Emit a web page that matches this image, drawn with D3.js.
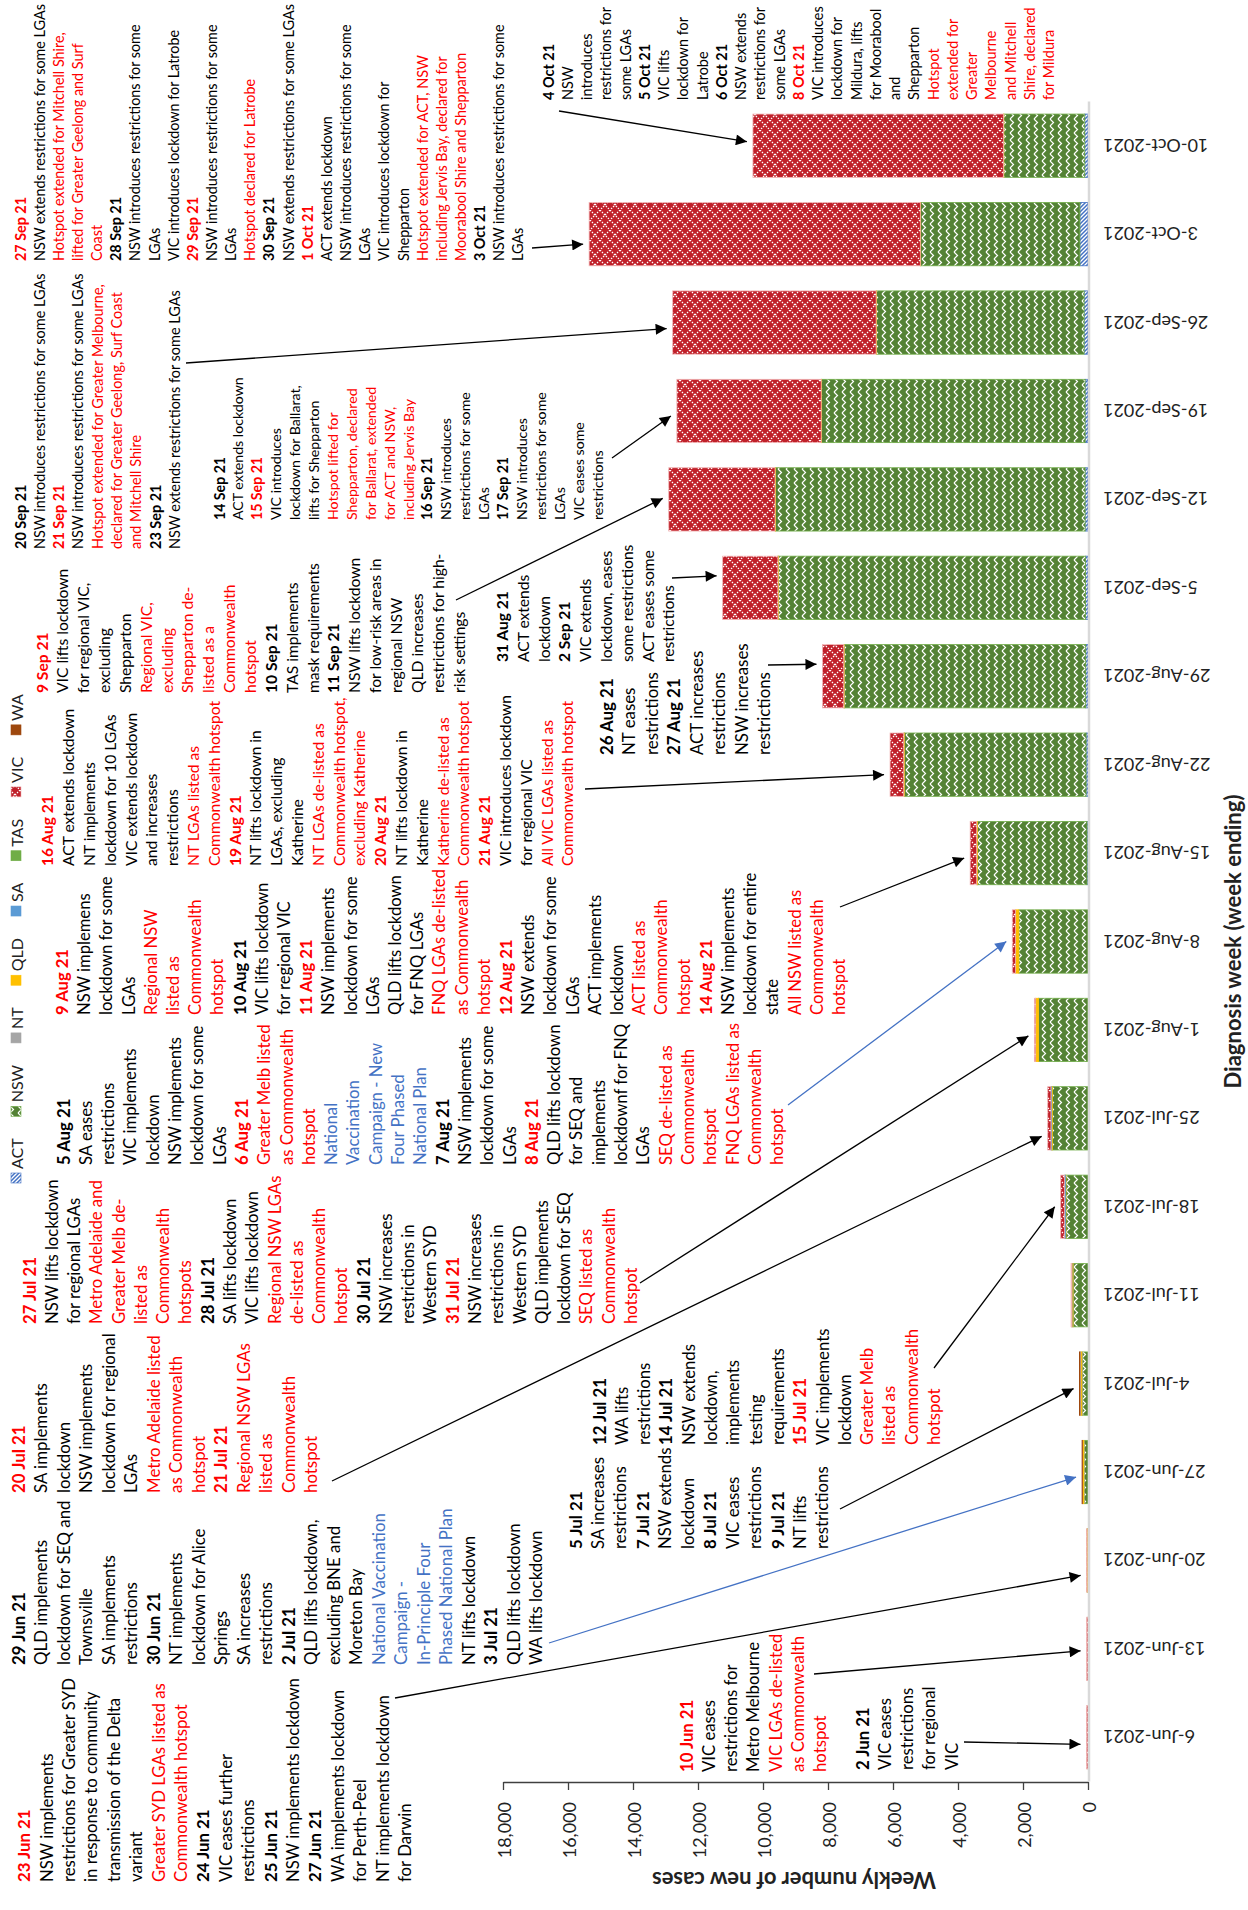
<!DOCTYPE html>
<html lang="en">
<head>
<meta charset="UTF-8">
<title>Weekly new cases and public health measures, Jun-Oct 2021</title>
<style>
  body { margin: 0; background: #fff; }
  svg { font-family: Lato, "Open Sans", sans-serif; }
</style>
</head>
<body>
<svg width="1248" height="1910"></svg>
<script src="https://d3js.org/d3.v7.min.js"></script>
<script>
// ---- data ----
const weeks = ["6-Jun-2021","13-Jun-2021","20-Jun-2021","27-Jun-2021","4-Jul-2021","11-Jul-2021",
  "18-Jul-2021","25-Jul-2021","1-Aug-2021","8-Aug-2021","15-Aug-2021","22-Aug-2021","29-Aug-2021",
  "5-Sep-2021","12-Sep-2021","19-Sep-2021","26-Sep-2021","3-Oct-2021","10-Oct-2021"];
const states = ["ACT","NSW","NT","QLD","SA","TAS","VIC","WA"];
const actCases = [0,0,0,0,0,0,0,0,0,0,30,60,70,80,90,90,120,250,100];
const nswCases = [2,3,20,120,180,460,680,1100,1520,2130,3370,5590,7430,9450,9530,8110,6390,4900,2490];
const ntCases  = [0,0,2,8,10,2,0,0,0,0,5,5,5,2,0,0,0,0,0];
const qldCases = [0,0,5,40,50,30,15,25,90,100,20,15,10,10,10,10,10,10,10];
const saCases  = [0,0,0,0,5,10,30,15,0,0,0,0,0,0,0,0,0,0,0];
const tasCases = [0,0,0,0,0,0,0,0,0,0,0,0,0,0,0,0,0,0,0];
const vicCases = [45,40,15,5,5,20,115,100,40,100,200,420,655,1700,3270,4440,6260,10190,7710];
const waCases  = [0,0,0,10,10,0,0,0,0,0,0,0,0,0,0,0,0,0,0];
const yTicks = [0,2000,4000,6000,8000,10000,12000,14000,16000,18000];

const rows = weeks.map((w, i) => ({ week: w, ACT: actCases[i], NSW: nswCases[i], NT: ntCases[i],
  QLD: qldCases[i], SA: saCases[i], TAS: tasCases[i], VIC: vicCases[i], WA: waCases[i] }));

// ---- annotation text boxes: "!" red, "*" bold, "~" blue ----
const notes = [
  { x: 20, y: 261, lh: 19.15, lines: ["!*27 Sep 21","NSW extends restrictions for some LGAs","!Hotspot extended for Mitchell Shire,","!lifted for Greater Geelong and Surf","!Coast","*28 Sep 21","NSW introduces restrictions for some","LGAs","VIC introduces lockdown for Latrobe","!*29 Sep 21","NSW introduces restrictions for some","LGAs","!Hotspot declared for Latrobe","*30 Sep 21","NSW extends restrictions for some LGAs","!*1 Oct 21","ACT extends lockdown","NSW introduces restrictions for some","LGAs","VIC introduces lockdown for","Shepparton","!Hotspot extended for ACT, NSW","!including Jervis Bay, declared for","!Moorabool Shire and Shepparton","*3 Oct 21","NSW introduces restrictions for some","LGAs"] },
  { x: 20, y: 549, lh: 19.3, lines: ["*20 Sep 21","NSW introduces restrictions for some LGAs","!*21 Sep 21","NSW introduces restrictions for some LGAs","!Hotspot extended for Greater Melbourne,","!declared for Greater Geelong, Surf Coast","!and Mitchell Shire","*23 Sep 21","NSW extends restrictions for some LGAs"] },
  { x: 219, y: 520, lh: 18.9, lines: ["*14 Sep 21","ACT extends lockdown","!*15 Sep 21","VIC introduces","lockdown for Ballarat,","lifts for Shepparton","!Hotspot lifted for","!Shepparton, declared","!for Ballarat, extended","!for ACT and NSW,","!including Jervis Bay","*16 Sep 21","NSW introduces","restrictions for some","LGAs","*17 Sep 21","NSW introduces","restrictions for some","LGAs","VIC eases some","restrictions"] },
  { x: 548, y: 100, lh: 19.26, lines: ["*4 Oct 21","NSW","introduces","restrictions for","some LGAs","*5 Oct 21","VIC lifts","lockdown for","Latrobe","*6 Oct 21","NSW extends","restrictions for","some LGAs","!*8 Oct 21","VIC introduces","lockdown for","Mildura, lifts","for Moorabool","and","Shepparton","!Hotspot","!extended for","!Greater","!Melbourne","!and Mitchell","!Shire, declared","!for Mildura"] },
  { x: 41.5, y: 693, lh: 20.85, lines: ["!*9 Sep 21","VIC lifts lockdown","for regional VIC,","excluding","Shepparton","!Regional VIC,","!excluding","!Shepparton de-","!listed as a","!Commonwealth","!hotspot","*10 Sep 21","TAS implements","mask requirements","*11 Sep 21","NSW lifts lockdown","for low-risk areas in","regional NSW","QLD increases","restrictions for high-","risk settings"] },
  { x: 502, y: 662, lh: 20.8, lines: ["*31 Aug 21","ACT extends","lockdown","*2 Sep 21","VIC extends","lockdown, eases","some restrictions","ACT eases some","restrictions"] },
  { x: 606, y: 755, lh: 22.5, lines: ["*26 Aug 21","NT eases","restrictions","*27 Aug 21","ACT increases","restrictions","NSW increases","restrictions"] },
  { x: 47.4, y: 866, lh: 20.8, lines: ["!*16 Aug 21","ACT extends lockdown","NT implements","lockdown for 10 LGAs","VIC extends lockdown","and increases","restrictions","!NT LGAs listed as","!Commonwealth hotspot","!*19 Aug 21","NT lifts lockdown in","LGAs, excluding","Katherine","!NT LGAs de-listed as","!Commonwealth hotspot,","!excluding Katherine","!*20 Aug 21","NT lifts lockdown in","Katherine","!Katherine de-listed as","!Commonwealth hotspot","!*21 Aug 21","VIC introduces lockdown","for regional VIC","!All VIC LGAs listed as","!Commonwealth hotspot"] },
  { x: 62, y: 1015, lh: 22.2, lines: ["!*9 Aug 21","NSW implemens","lockdown for some","LGAs","!Regional NSW","!listed as","!Commonwealth","!hotspot","*10 Aug 21","VIC lifts lockdown","for regional VIC","!*11 Aug 21","NSW implements","lockdown for some","LGAs","QLD lifts lockdown","for FNQ LGAs","!FNQ LGAs de-listed","!as Commonwealth","!hotspot","!*12 Aug 21","NSW extends","lockdown for some","LGAs","ACT implements","lockdown","!ACT listed as","!Commonwealth","!hotspot","!*14 Aug 21","NSW implements","lockdown for entire","state","!All NSW listed as","!Commonwealth","!hotspot"] },
  { x: 63, y: 1165, lh: 22.3, lines: ["*5 Aug 21","SA eases","restrictions","VIC implements","lockdown","NSW implements","lockdown for some","LGAs","!*6 Aug 21","!Greater Melb listed","!as Commonwealth","!hotspot","~National","~Vaccination","~Campaign - New","~Four Phased","~National Plan","*7 Aug 21","NSW implements","lockdown for some","LGAs","!*8 Aug 21","QLD lifts lockdown","for SEQ and","implements","lockdownf for FNQ","LGAs","!SEQ de-listed as","!Commonwealth","!hotspot","!FNQ LGAs listed as","!Commonwealth","!hotspot"] },
  { x: 29.6, y: 1324, lh: 22.27, lines: ["!*27 Jul 21","NSW lifts lockdown","for regional LGAs","!Metro Adelaide and","!Greater Melb de-","!listed as","!Commonwealth","!hotspots","*28 Jul 21","SA lifts lockdown","VIC lifts lockdown","!Regional NSW LGAs","!de-listed as","!Commonwealth","!hotspot","*30 Jul 21","NSW increases","restrictions in","Western SYD","!*31 Jul 21","NSW increases","restrictions in","Western SYD","QLD implements","lockdown for SEQ","!SEQ listed as","!Commonwealth","!hotspot"] },
  { x: 18, y: 1493, lh: 22.5, lines: ["!*20 Jul 21","SA implements","lockdown","NSW implements","lockdown for regional","LGAs","!Metro Adelaide listed","!as Commonwealth","!hotspot","!*21 Jul 21","!Regional NSW LGAs","!listed as","!Commonwealth","!hotspot"] },
  { x: 18, y: 1665, lh: 22.5, lines: ["*29 Jun 21","QLD implements","lockdown for SEQ and","Townsville","SA implements","restrictions","*30 Jun 21","NT implements","lockdown for Alice","Springs","SA increases","restrictions","*2 Jul 21","QLD lifts lockdown,","excluding BNE and","Moreton Bay","~National Vaccination","~Campaign -","~In-Principle Four","~Phased National Plan","NT lifts lockdown","*3 Jul 21","QLD lifts lockdown","WA lifts lockdown"] },
  { x: 23.7, y: 1882, lh: 22.4, lines: ["!*23 Jun 21","NSW implements","restrictions for Greater SYD","in response to community","transmission of the Delta","variant","!Greater SYD LGAs listed as","!Commonwealth hotspot","*24 Jun 21","VIC eases further","restrictions","*25 Jun 21","NSW implements lockdown","*27 Jun 21","WA implements lockdown","for Perth-Peel","NT implements lockdown","for Darwin"] },
  { x: 575, y: 1549, lh: 22.45, lines: ["*5 Jul 21","SA increases","restrictions","*7 Jul 21","NSW extends","lockdown","*8 Jul 21","VIC eases","restrictions","*9 Jul 21","NT lifts","restrictions"] },
  { x: 599, y: 1445, lh: 22.3, lines: ["*12 Jul 21","WA lifts","restrictions","*14 Jul 21","NSW extends","lockdown,","implements","testing","requirements","!*15 Jul 21","VIC implements","lockdown","!Greater Melb","!listed as","!Commonwealth","!hotspot"] },
  { x: 686, y: 1772, lh: 22.3, lines: ["!*10 Jun 21","VIC eases","restrictions for","Metro Melbourne","!VIC LGAs de-listed","!as Commonwealth","!hotspot"] },
  { x: 862, y: 1770, lh: 22.3, lines: ["*2 Jun 21","VIC eases","restrictions","for regional","VIC"] }
];

// arrows: start at a note, end at the bar of a week
const arrows = [
  { from: [559, 111], week: "10-Oct-2021", dy: -4 },
  { from: [532, 248], week: "3-Oct-2021", dy: 10 },
  { from: [186, 363], week: "26-Sep-2021", dy: 6 },
  { from: [612, 458], week: "19-Sep-2021", dy: 5 },
  { from: [456, 600], week: "12-Sep-2021", dy: -1 },
  { from: [672, 578], week: "5-Sep-2021", dy: -12 },
  { from: [768, 665], week: "29-Aug-2021", dy: -12 },
  { from: [585, 789], week: "22-Aug-2021", dy: 10 },
  { from: [840, 907], week: "15-Aug-2021", dy: 5 },
  { from: [788, 1105], week: "8-Aug-2021", dy: 0, blue: true },
  { from: [640, 1283], week: "1-Aug-2021", dy: 6 },
  { from: [332, 1481], week: "25-Jul-2021", dy: 18 },
  { from: [934, 1368], week: "18-Jul-2021", dy: 0 },
  { from: [840, 1509], week: "4-Jul-2021", dy: 5 },
  { from: [549, 1643], week: "27-Jun-2021", dy: 5, blue: true },
  { from: [395, 1698], week: "20-Jun-2021", dy: 15 },
  { from: [814, 1674], week: "13-Jun-2021", dy: 2 },
  { from: [964, 1742], week: "6-Jun-2021", dy: 7 }
];

// ---- chart ----
const svg = d3.select("svg");
const defs = svg.append("defs");

const x = d3.scaleLinear().domain([0, 18000]).range([1088, 503]);
const y = d3.scaleBand().domain(weeks).range([1781.5, 101.5]).paddingInner(0.284).paddingOuter(0.142);

// fills
const pAct = defs.append("pattern").attr("id", "pACT").attr("patternUnits", "userSpaceOnUse")
  .attr("width", 4).attr("height", 4);
pAct.append("rect").attr("width", 4).attr("height", 4).attr("fill", "#fff");
pAct.append("path").attr("d", "M-1,1 L1,-1 M0,4 L4,0 M3,5 L5,3").attr("stroke", "#4472C4").attr("stroke-width", 1.5);

const pNsw = defs.append("pattern").attr("id", "pNSW").attr("patternUnits", "userSpaceOnUse")
  .attr("width", 8).attr("height", 7);
pNsw.append("rect").attr("width", 8).attr("height", 7).attr("fill", "#548235");
pNsw.append("path").attr("d", "M2,0 L5.5,3.5 L2,7").attr("stroke", "#fff").attr("stroke-width", 1.2).attr("fill", "none");

const pVic = defs.append("pattern").attr("id", "pVIC").attr("patternUnits", "userSpaceOnUse")
  .attr("width", 10).attr("height", 10);
pVic.append("rect").attr("width", 10).attr("height", 10).attr("fill", "#C0202A");
pVic.append("path").attr("d", "M0,0 L10,10 M10,0 L0,10").attr("stroke", "#fff")
  .attr("stroke-width", 1.3).attr("stroke-dasharray", "1.4,1.4");

const fills = { ACT: "url(#pACT)", NSW: "url(#pNSW)", NT: "#A5A5A5", QLD: "#FFC000",
  SA: "#5B9BD5", TAS: "#70AD47", VIC: "url(#pVIC)", WA: "#9E480E" };
const edges = { ACT: "#4472C4", NSW: "#70AD47", NT: "#A5A5A5", QLD: "#FFC000",
  SA: "#5B9BD5", TAS: "#70AD47", VIC: "#F2B6B6", WA: "#9E480E" };

const series = d3.stack().keys(states)(rows);

svg.append("g").selectAll("g")
  .data(series).join("g")
  .attr("fill", d => fills[d.key])
  .attr("stroke", d => edges[d.key])
  .attr("stroke-width", 0.8)
  .selectAll("rect")
  .data(d => d.filter(p => p[1] > p[0]))
  .join("rect")
  .attr("x", d => x(d[1]))
  .attr("y", d => y(d.data.week))
  .attr("width", d => x(d[0]) - x(d[1]))
  .attr("height", y.bandwidth());

// category axis line
svg.append("line")
  .attr("x1", x(0) + 1).attr("x2", x(0) + 1)
  .attr("y1", y.range()[1]).attr("y2", y.range()[0])
  .attr("stroke", "#D9D9D9").attr("stroke-width", 2.5);

// week labels, upside down
svg.append("g").selectAll("text")
  .data(weeks).join("text")
  .attr("transform", d => `translate(1103,${y(d) + y.bandwidth() / 2}) rotate(180)`)
  .attr("text-anchor", "end")
  .attr("dominant-baseline", "central")
  .attr("font-size", 18)
  .attr("fill", "#222")
  .text(d => d);

// value axis
const xAxis = svg.append("g")
  .attr("transform", "translate(0,1782)")
  .call(d3.axisBottom(x).tickValues(yTicks).tickFormat(d3.format(",")).tickSize(8).tickSizeOuter(0));
xAxis.select(".domain").attr("stroke", "#404040").attr("stroke-width", 1.3);
xAxis.selectAll(".tick line").attr("stroke", "#404040").attr("stroke-width", 1.3);
xAxis.selectAll(".tick text")
  .attr("x", 0).attr("y", 0).attr("dy", null)
  .attr("transform", "translate(0,20) rotate(-90)")
  .attr("text-anchor", "end")
  .attr("dominant-baseline", "central")
  .attr("font-family", "Lato, sans-serif")
  .attr("font-size", 18)
  .attr("fill", "#222");

// axis titles
svg.append("text")
  .attr("transform", "translate(794,1880) rotate(180)")
  .attr("text-anchor", "middle").attr("dominant-baseline", "central")
  .attr("font-size", 22).attr("font-weight", 700).attr("fill", "#222")
  .text("Weekly number of new cases");
svg.append("text")
  .attr("transform", `translate(1232,${(y.range()[0] + y.range()[1]) / 2}) rotate(-90)`)
  .attr("text-anchor", "middle").attr("dominant-baseline", "central")
  .attr("font-size", 22).attr("font-weight", 700).attr("fill", "#222")
  .text("Diagnosis week (week ending)");

// legend, reading upwards along the left edge
const legend = svg.append("g").attr("font-size", 16);
let ly = 1183;
states.forEach(s => {
  legend.append("rect").attr("x", 11).attr("y", ly - 10).attr("width", 10).attr("height", 10)
    .attr("fill", fills[s]).attr("stroke", edges[s]).attr("stroke-width", 0.6);
  const t = legend.append("text")
    .attr("transform", `translate(16,${ly - 14}) rotate(-90)`)
    .attr("dominant-baseline", "central").attr("fill", "#222").text(s);
  ly -= 14 + t.node().getComputedTextLength() + 22;
});

// notes
notes.forEach(n => {
  const g = svg.append("g").attr("font-size", n.lh * 0.75);
  n.lines.forEach((raw, i) => {
    let s = raw, red = false, bold = false, blue = false;
    while ("!*~".includes(s[0])) {
      if (s[0] === "!") red = true; else if (s[0] === "*") bold = true; else blue = true;
      s = s.slice(1);
    }
    g.append("text")
      .attr("transform", `translate(${n.x + i * n.lh},${n.y}) rotate(-90)`)
      .attr("dominant-baseline", "central")
      .attr("fill", red ? "#FF0000" : blue ? "#4472C4" : "#000")
      .attr("font-weight", bold ? 700 : 400)
      .text(s);
  });
});

// arrows
[["hb", "#000"], ["hu", "#4472C4"]].forEach(([id, c]) => {
  defs.append("marker").attr("id", id).attr("viewBox", "0 0 10 10")
    .attr("refX", 10).attr("refY", 5).attr("markerWidth", 15).attr("markerHeight", 11)
    .attr("markerUnits", "userSpaceOnUse").attr("orient", "auto")
    .append("path").attr("d", "M0,0 L10,5 L0,10 z").attr("fill", c);
});
const totals = new Map(rows.map(r => [r.week, d3.sum(states, s => r[s])]));
svg.append("g").selectAll("line")
  .data(arrows).join("line")
  .attr("x1", d => d.from[0]).attr("y1", d => d.from[1])
  .attr("x2", d => x(totals.get(d.week)) - 6)
  .attr("y2", d => y(d.week) + y.bandwidth() / 2 + d.dy)
  .attr("stroke", d => d.blue ? "#4472C4" : "#000")
  .attr("stroke-width", 1.3)
  .attr("marker-end", d => d.blue ? "url(#hu)" : "url(#hb)");
</script>
</body>
</html>
